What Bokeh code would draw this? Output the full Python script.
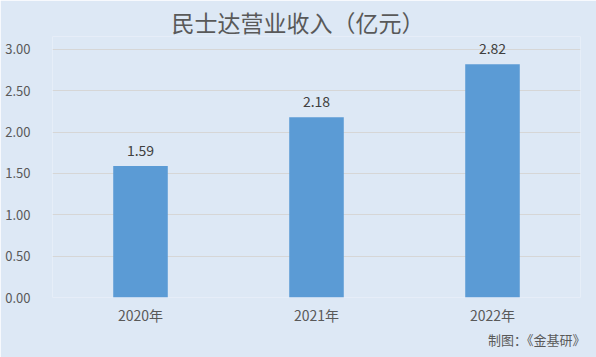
from bokeh.plotting import figure
from bokeh.models import ColumnDataSource, Title, NumeralTickFormatter, FixedTicker, Range1d, FactorRange
from bokeh.embed import file_html
from bokeh.resources import INLINE

title_text = "民士达营业收入（亿元）"
years = ["2020年", "2021年", "2022年"]
revenue = [1.59, 2.18, 2.82]
y_ticks = [0, 0.5, 1.0, 1.5, 2.0, 2.5, 3.0]
source_note = "制图：《金基研》"

bg = "#dde8f5"
bar_color = "#5b9bd5"
font = "Noto Sans CJK SC"

src = ColumnDataSource(dict(x=years, y=revenue, lbl=[f"{v:.2f}" for v in revenue]))

p = figure(width=596, height=357, x_range=FactorRange(*years, range_padding=0),
           y_range=Range1d(0, 3.157), output_backend="svg", toolbar_location=None,
           min_border_left=52, min_border_right=16, min_border_top=36, min_border_bottom=60)
p.background_fill_color = bg
p.border_fill_color = bg
p.outline_line_color = None

p.vbar(x="x", top="y", width=0.31, source=src, color=bar_color, line_color=None)
p.text(x="x", y="y", text="lbl", source=src, text_align="center", text_baseline="bottom",
       y_offset=-10, text_font_size="14px", text_color="#404040", text_font={"value": font})

p.xgrid.grid_line_color = None
p.ygrid.grid_line_color = "#d6d6d6"
p.ygrid.ticker = FixedTicker(ticks=y_ticks)

p.yaxis.ticker = FixedTicker(ticks=y_ticks)
p.yaxis.formatter = NumeralTickFormatter(format="0.00")
for ax in (p.xaxis[0], p.yaxis[0]):
    ax.axis_line_color = None
    ax.major_tick_line_color = None
    ax.minor_tick_line_color = None
    ax.major_label_text_font = font
    ax.major_label_text_font_size = "13px"
    ax.major_label_text_color = "#595959"
p.xaxis.major_label_text_font_size = "14px"
p.yaxis.major_label_standoff = 16
p.xaxis.major_label_standoff = 1

p.title = Title(text=title_text, align="left", offset=119, standoff=-5, text_font=font,
                text_font_size="23px", text_color="#595959", text_font_style="normal")
p.add_layout(Title(text=source_note, align="right", offset=-5, standoff=0, text_font=font,
                   text_font_size="13px", text_color="#595959", text_font_style="normal"), "below")

open("out.html", "w").write(file_html(p, INLINE))
